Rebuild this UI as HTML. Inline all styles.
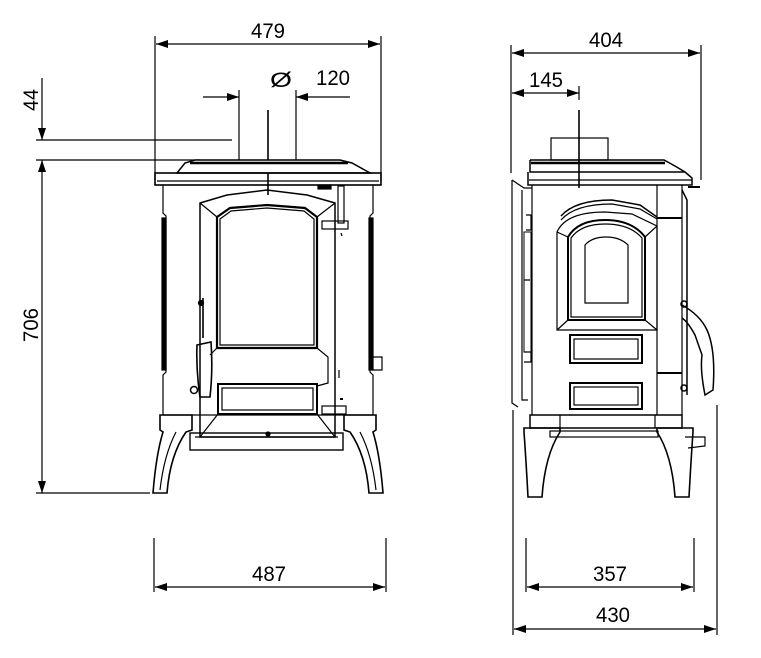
<!DOCTYPE html>
<html><head><meta charset="utf-8"><style>
html,body{margin:0;padding:0;background:#fff;}
svg{display:block}
text{font-family:"Liberation Sans Narrow","Liberation Sans",sans-serif;font-size:21px;fill:#000}
</style></head><body>
<svg width="761" height="658" viewBox="0 0 761 658" xmlns="http://www.w3.org/2000/svg">
<defs>
<marker id="a" viewBox="0 0 12 8" refX="12" refY="4" markerWidth="12" markerHeight="8" orient="auto-start-reverse" markerUnits="userSpaceOnUse"><path d="M0,0 L12,4 L0,8 z" fill="#000"/></marker>
</defs>
<g stroke="#000" stroke-width="1.2" fill="none">
<!-- FRONT dims -->
<line x1="155" y1="36" x2="155" y2="180"/><line x1="381" y1="36" x2="381" y2="182"/>
<line x1="156" y1="44" x2="380" y2="44" marker-start="url(#a)" marker-end="url(#a)"/>
<line x1="203" y1="97" x2="239" y2="97" marker-end="url(#a)"/>
<line x1="350" y1="97" x2="296" y2="97" marker-end="url(#a)"/>
<line x1="239" y1="90" x2="239" y2="160"/><line x1="296" y1="90" x2="296" y2="160"/>
<line x1="268" y1="110" x2="268" y2="195" stroke-width="1.6"/>
<line x1="36" y1="140" x2="232" y2="140"/>
<line x1="36" y1="160" x2="200" y2="160"/>
<line x1="42" y1="78" x2="42" y2="140" marker-end="url(#a)"/>
<line x1="42" y1="160" x2="42" y2="493" marker-start="url(#a)" marker-end="url(#a)"/>
<line x1="36" y1="493" x2="150" y2="493"/>
<line x1="154" y1="538" x2="154" y2="592"/><line x1="386" y1="538" x2="386" y2="592"/>
<line x1="155" y1="587" x2="385" y2="587" marker-start="url(#a)" marker-end="url(#a)"/>

<!-- FRONT stove -->
<path d="M177,173 L185,163 L195,160 L340,160 L352,163 L370,173 Z" fill="#fff" stroke-width="1.5"/>
<line x1="190" y1="163" x2="348" y2="163" stroke-width="2.5"/>
<rect x="155" y="173" width="226" height="12" stroke-width="1.6"/>
<line x1="157" y1="181" x2="379" y2="181"/>
<path d="M163,185 L163,213 L166,216 L166,372 L163,375 L163,415 M373,185 L373,213 L370,216 L370,372 L373,375 L373,415"/>
<rect x="162" y="218" width="4" height="152" fill="#000"/>
<rect x="369" y="218" width="4" height="152" fill="#000"/>
<line x1="163" y1="415" x2="373" y2="415"/>
<!-- door -->
<path d="M200,203 L227,195 L267,190 L307,195 L335,203 L335,437 L200,437 Z" stroke-width="1.5"/>
<path d="M217,217 L230,208 L267,205 L305,208 L317,217 L317,348 L217,348 Z" stroke-width="2.2"/>
<path d="M220,219 L231,211 L267,208 L304,211 L314,219 L314,345 L220,345 Z"/>
<path d="M200,203 L217,217 M335,203 L317,217 M317,348 L328,357 L328,383 L317,386 M217,348 L210,355 M200,437 L218,414 M335,437 L317,414"/>
<rect x="218" y="384" width="99" height="30" stroke-width="2"/>
<rect x="222" y="388" width="91" height="22"/>
<rect x="190" y="433" width="153" height="17" stroke-width="1.4"/>
<line x1="195" y1="437" x2="338" y2="437"/>
<circle cx="268" cy="434" r="2" fill="#000"/>
<!-- handle -->
<path d="M203,298 L203,338 M197,345 Q196,370 200,397 L210,397 Q213,370 211,342 Z" stroke-width="1.6"/>
<circle cx="194" cy="390" r="3.5" stroke-width="1.5"/>
<circle cx="201" cy="303" r="2.5" fill="#000"/>
<!-- hinges -->
<rect x="338" y="186" width="6" height="37" stroke-width="1.2"/>
<rect x="322" y="221" width="26" height="8"/>
<rect x="322" y="406" width="24" height="8"/>
<rect x="318" y="185" width="13" height="4" fill="#000"/>
<line x1="341" y1="233" x2="342" y2="236"/><line x1="339" y1="370" x2="339" y2="378"/><line x1="340" y1="399" x2="343" y2="399" stroke-width="2"/>
<path d="M372,357 L382,357 L382,370 L372,370"/>
<!-- legs front -->
<path d="M160,415 L192,415 L192,430 L186,432 Q170,455 167,493 L153,493 Q156,455 163,432 L160,430 Z" stroke-width="1.6"/>
<path d="M176,432 Q164,455 160,490"/>
<path d="M376,415 L344,415 L344,430 L350,432 Q366,455 369,493 L383,493 Q380,455 373,432 L376,430 Z" stroke-width="1.6"/>
<path d="M360,432 Q372,455 376,490"/>

<!-- SIDE dims -->
<line x1="511" y1="45" x2="511" y2="173"/><line x1="701" y1="45" x2="701" y2="180"/>
<line x1="512" y1="53" x2="700" y2="53" marker-start="url(#a)" marker-end="url(#a)"/>
<line x1="512" y1="93" x2="579" y2="93" marker-start="url(#a)" marker-end="url(#a)"/>
<line x1="579" y1="86" x2="579" y2="100"/>
<line x1="579" y1="110" x2="579" y2="188" stroke-width="1.6"/>
<line x1="513" y1="410" x2="513" y2="635"/><line x1="717" y1="405" x2="717" y2="635"/>
<line x1="514" y1="629" x2="716" y2="629" marker-start="url(#a)" marker-end="url(#a)"/>
<line x1="526" y1="538" x2="526" y2="592"/><line x1="694" y1="538" x2="694" y2="592"/>
<line x1="527" y1="587" x2="693" y2="587" marker-start="url(#a)" marker-end="url(#a)"/>

<!-- SIDE stove -->
<rect x="551" y="138" width="57" height="22"/>
<path d="M530,160 L530,172 L685,172 L692,178 L692,185 L528,185 L528,172 M530,160 L664,160 L675,166 L685,172" stroke-width="1.5"/>
<line x1="531" y1="163" x2="665" y2="163" stroke-width="2.5"/>
<line x1="529" y1="180" x2="692" y2="180"/>
<path d="M532,185 L532,415 M657,185 L657,415 M682,185 L682,415"/>
<path d="M512,180 L524,188 L532,188 M512,180 L512,403 L518,407 M522,190 L522,400 L528,400"/>
<path d="M526,215 L531,215 L531,230 L526,230 M524,280 L530,280 M524,352 L531,352 L531,362 L524,362"/>
<rect x="524" y="232" width="7" height="120" stroke-width="1"/>
<!-- arch -->
<path d="M561,216 Q575,200 612,200 L640,205 L657,217" stroke-width="1.5"/>
<path d="M561,220 Q575,204 612,204 L640,209 L657,219"/>
<path d="M557,232 Q566,212 605,212 L632,214 L657,226 L657,330 L557,330 Z"/>
<path d="M568,237 Q578,220 605,220 Q632,220 645,237 L645,320 L568,320 Z" stroke-width="2"/>
<path d="M571,238 Q581,224 605,224 Q630,224 642,238 L642,317 L571,317 Z"/>
<path d="M585,245 Q592,237 606,237 Q620,237 628,245 L628,303 L585,303 Z"/>
<path d="M557,232 L568,237 M657,226 L645,237 M557,330 L568,320 M657,330 L645,320"/>
<line x1="657" y1="218" x2="682" y2="218" stroke-width="2"/>
<line x1="657" y1="373" x2="682" y2="373" stroke-width="2"/>
<rect x="570" y="335" width="72" height="28" stroke-width="2"/><rect x="574" y="339" width="64" height="20"/>
<rect x="570" y="383" width="72" height="26" stroke-width="2"/><rect x="574" y="387" width="64" height="18"/>
<!-- handle side -->
<path d="M682,190 L687,200 L687,395 M682,305 Q700,315 707,330 Q716,350 713,390 L705,395 Q700,370 702,355 L695,335 Q688,322 682,318" stroke-width="1.5"/>
<circle cx="684" cy="304" r="3" stroke-width="1.5"/>
<circle cx="684" cy="388" r="3" stroke-width="1.5"/>
<line x1="688" y1="187" x2="700" y2="187" stroke-width="2"/>
<!-- base -->
<rect x="530" y="415" width="152" height="13" stroke-width="1.5"/>
<line x1="560" y1="415" x2="560" y2="428"/><line x1="655" y1="415" x2="655" y2="428"/>
<rect x="550" y="431" width="108" height="6"/>
<path d="M685,437 L705,437 L705,446 L688,448"/>
<path d="M524,428 L560,428 L560,432 Q545,455 542,497 L528,497 Q526,460 524,432 Z" stroke-width="1.6"/>
<path d="M693,428 L657,428 L657,432 Q672,455 675,497 L689,497 Q691,460 693,432 Z" stroke-width="1.6"/>
</g>
<text x="251" y="38" textLength="34" lengthAdjust="spacingAndGlyphs">479</text>
<text x="270" y="87" font-size="25" textLength="22" lengthAdjust="spacingAndGlyphs">Ø</text>
<text x="316" y="85" textLength="34" lengthAdjust="spacingAndGlyphs">120</text>
<text x="38" y="100" transform="rotate(-90 38 100)" text-anchor="middle" textLength="22" lengthAdjust="spacingAndGlyphs">44</text>
<text x="38" y="325" transform="rotate(-90 38 325)" text-anchor="middle" textLength="34" lengthAdjust="spacingAndGlyphs">706</text>
<text x="252" y="581" textLength="34" lengthAdjust="spacingAndGlyphs">487</text>
<text x="589" y="47" textLength="34" lengthAdjust="spacingAndGlyphs">404</text>
<text x="529" y="87" textLength="34" lengthAdjust="spacingAndGlyphs">145</text>
<text x="593" y="581" textLength="34" lengthAdjust="spacingAndGlyphs">357</text>
<text x="596" y="622" textLength="34" lengthAdjust="spacingAndGlyphs">430</text>
</svg>
</body></html>
